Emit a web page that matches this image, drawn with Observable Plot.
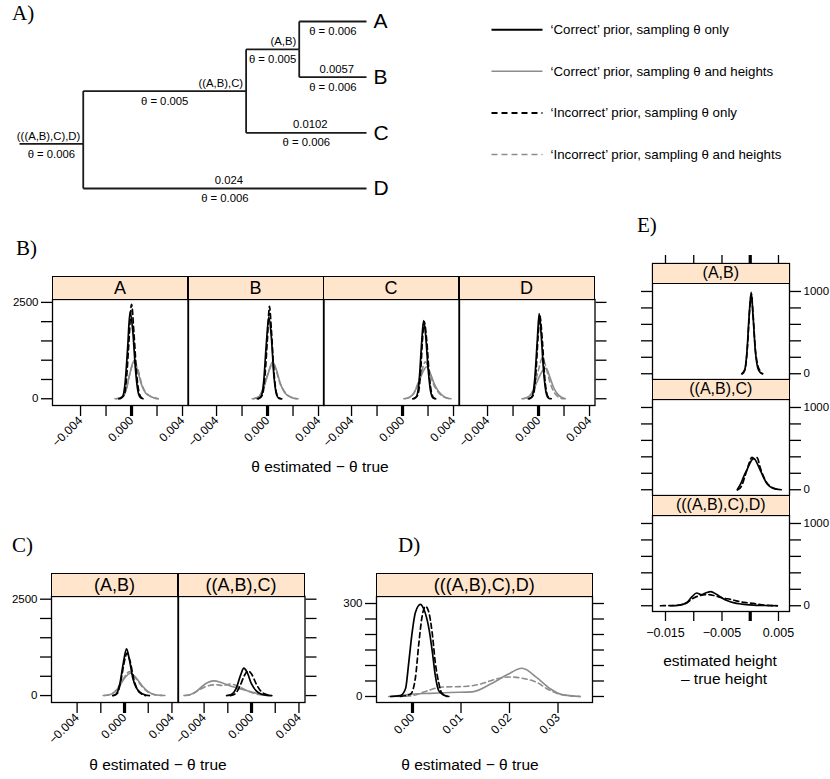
<!DOCTYPE html>
<html><head><meta charset="utf-8">
<script src="https://cdn.jsdelivr.net/npm/d3@7"></script>
<script src="https://cdn.jsdelivr.net/npm/@observablehq/plot@0.6"></script>
<style>
body{margin:0;background:#fff;}
#fig{position:relative;width:830px;height:779px;background:#fff;overflow:hidden;font-family:'Liberation Sans',Arial,Helvetica,sans-serif;color:#000;}
.strip{position:absolute;box-sizing:border-box;background:#ffe5cc;border:1.3px solid #000;display:flex;align-items:center;justify-content:center;white-space:nowrap;line-height:1;}
.txt{position:absolute;white-space:nowrap;line-height:1;transform:translate(-50%,-50%);}
.lett{position:absolute;white-space:nowrap;line-height:1;font-family:'Liberation Serif','Times New Roman',serif;font-size:21px;}
</style></head><body><div id="fig"></div>
<script>
// ---------------- DATA ----------------
// Tree (panel A)
const treeNodes  = ["A","B","C","D","(A,B)","((A,B),C)","(((A,B),C),D)"];
const treeParent = ["(A,B)","(A,B)","((A,B),C)","(((A,B),C),D)","((A,B),C)","(((A,B),C),D)",null];
const treeHeight = [0,0,0,0,0.0057,0.0102,0.024];
const treeRow    = [0,1,2,3,0.5,1.25,2.2];
const treeTheta  = ["0.006","0.006","0.006","0.006","0.005","0.005","0.006"];
const treeHeightLabelNodes = ["B","C","D"];
const rootStem = 0.0054;

// Legend series
const seriesNames = [
  "\u2018Correct\u2019 prior, sampling \u03b8 only",
  "\u2018Correct\u2019 prior, sampling \u03b8 and heights",
  "\u2018Incorrect\u2019 prior, sampling \u03b8 only",
  "\u2018Incorrect\u2019 prior, sampling \u03b8 and heights"
];

// Tick values
const thetaXTicks = [-0.004,-0.002,0,0.002,0.004];
const thetaXLabels = [-0.004,0,0.004];
const bYTicks = [0,500,1000,1500,2000,2500];
const bYLabels = [0,2500];
const dXTicks = [0,0.01,0.02,0.03];
const dYTicks = [0,50,100,150,200,250,300];
const dYLabels = [0,300];
const eXTicks = [-0.015,-0.01,-0.005,0,0.005];
const eXLabels = [-0.015,-0.005,0.005];
const eYTicks = [0,200,400,600,800,1000];
const eYLabels = [0,1000];

// Panel B facets (curves order: correct θ only, correct θ+heights, incorrect θ only, incorrect θ+heights)
const bFacets = ["A","B","C","D"];
const bA = [
  [[-0.0010,0],[-0.0007,60],[-0.0005,420],[-0.0003,1350],[-0.00012,2250],[0.0001,1750],[0.0003,800],[0.0005,200],[0.0007,30],[0.0009,0]],
  [[-0.0013,0],[-0.0009,20],[-0.0005,150],[-0.0002,550],[0.0002,990],[0.0005,700],[0.0008,350],[0.0011,150],[0.0015,60],[0.0018,20],[0.0021,0]],
  [[-0.0009,0],[-0.0006,80],[-0.0004,500],[-0.0002,1500],[0.0,2450],[0.0002,1650],[0.0004,650],[0.0006,150],[0.0008,20],[0.001,0]],
  [[-0.0012,0],[-0.0008,40],[-0.0004,250],[-0.0001,700],[0.0002,930],[0.0005,760],[0.0008,380],[0.0011,170],[0.0014,80],[0.0018,20],[0.0021,0]]
];
const bB = [
  [[-0.0008,0],[-0.0005,60],[-0.0003,450],[-0.0001,1400],[0.0001,2120],[0.0003,1600],[0.0005,600],[0.0007,120],[0.0009,10],[0.0011,0]],
  [[-0.0012,0],[-0.0008,30],[-0.0004,200],[0.0,600],[0.0004,960],[0.0007,750],[0.001,400],[0.0013,180],[0.0017,60],[0.0021,10],[0.0024,0]],
  [[-0.0007,0],[-0.0004,100],[-0.0002,600],[0.0,1600],[0.00015,2400],[0.0003,1800],[0.0005,700],[0.0007,150],[0.0009,20],[0.0011,0]],
  [[-0.0011,0],[-0.0007,50],[-0.0003,300],[0.0001,720],[0.0004,900],[0.0007,700],[0.001,380],[0.0013,200],[0.0016,90],[0.002,20],[0.0023,0]]
];
const bC = [
  [[0.0008,0],[0.0011,60],[0.0013,450],[0.0015,1450],[0.00165,2030],[0.0018,1700],[0.002,800],[0.0022,200],[0.0024,20],[0.0026,0]],
  [[0.0001,0],[0.0005,30],[0.0009,150],[0.0013,450],[0.0016,700],[0.0019,830],[0.0022,650],[0.0025,380],[0.0028,200],[0.0032,70],[0.0035,15],[0.0038,0]],
  [[0.0009,0],[0.0012,100],[0.0014,600],[0.0016,1700],[0.0017,2000],[0.0019,1500],[0.0021,600],[0.0023,120],[0.0025,10],[0.0027,0]],
  [[0.0002,0],[0.0006,40],[0.001,220],[0.0014,600],[0.0018,960],[0.0021,700],[0.0024,400],[0.0027,220],[0.003,100],[0.0034,30],[0.0037,0]]
];
const bD = [
  [[-0.0008,0],[-0.0005,60],[-0.0003,500],[-0.0001,1500],[0.00005,2210],[0.0002,1700],[0.0004,700],[0.0006,150],[0.0008,15],[0.001,0]],
  [[-0.0013,0],[-0.0009,30],[-0.0005,150],[-0.0001,450],[0.0003,720],[0.0006,790],[0.0009,550],[0.0012,280],[0.0015,120],[0.0018,40],[0.0021,0]],
  [[-0.0007,0],[-0.0004,100],[-0.0002,700],[0.0,1800],[0.0001,2150],[0.0003,1500],[0.0005,500],[0.0007,80],[0.0009,0]],
  [[-0.0012,0],[-0.0008,40],[-0.0004,250],[0.0,750],[0.0003,1060],[0.0006,800],[0.0009,420],[0.0012,180],[0.0015,60],[0.0018,10],[0.002,0]]
];

// Panel C facets
const cFacets = ["(A,B)","((A,B),C)"];
const cAB = [
  [[-0.0010,0],[-0.0007,40],[-0.0004,300],[-0.0001,850],[0.00017,1210],[0.0004,950],[0.0007,450],[0.001,200],[0.0013,90],[0.0017,20],[0.0021,0]],
  [[-0.0018,0],[-0.0013,20],[-0.0008,100],[-0.0004,260],[0.0,450],[0.0005,580],[0.001,450],[0.0015,250],[0.002,100],[0.0026,20],[0.0034,0]],
  [[-0.0009,0],[-0.0006,60],[-0.0003,400],[0.0,900],[0.0002,1100],[0.0005,850],[0.0008,400],[0.0011,150],[0.0014,50],[0.0018,0]],
  [[-0.0017,0],[-0.0012,30],[-0.0007,140],[-0.0003,330],[0.0001,530],[0.0004,620],[0.0009,470],[0.0014,260],[0.0019,110],[0.0025,25],[0.0032,0]]
];
const cABC = [
  [[-0.0021,0],[-0.0017,30],[-0.0013,180],[-0.0009,550],[-0.00065,710],[-0.0004,620],[0.0,300],[0.0004,120],[0.0008,40],[0.0012,8],[0.0016,0]],
  [[-0.0057,0],[-0.0052,20],[-0.0046,120],[-0.004,280],[-0.0032,380],[-0.0025,330],[-0.0018,250],[-0.001,180],[-0.0003,120],[0.0004,60],[0.001,15],[0.0017,0]],
  [[-0.0018,0],[-0.0014,40],[-0.001,230],[-0.0006,520],[-0.0003,640],[0.0,560],[0.0004,300],[0.0008,110],[0.0012,30],[0.0017,0]],
  [[-0.0056,0],[-0.005,40],[-0.0044,150],[-0.0037,250],[-0.003,280],[-0.0024,260],[-0.0018,300],[-0.0012,250],[-0.0006,160],[0.0,80],[0.0006,30],[0.0012,5],[0.0017,0]]
];

// Panel D
const dFacet = "(((A,B),C),D)";
const dRoot = [
  [[-0.0045,0],[-0.0025,3],[-0.00144,25],[-0.00076,111],[-0.00007,207],[0.0006,271],[0.00165,297],[0.0023,283],[0.0034,218],[0.0041,143],[0.0047,68],[0.0054,19],[0.0064,5],[0.0075,0]],
  [[-0.0045,0],[-0.0025,3],[0.0003,8],[0.0037,10],[0.0078,13],[0.0123,15],[0.0161,40],[0.0195,70],[0.0226,91],[0.0257,60],[0.0284,25],[0.0308,6],[0.0346,0]],
  [[-0.0025,0],[-0.0004,8],[0.0006,60],[0.0013,170],[0.002,260],[0.0027,291],[0.0034,270],[0.0041,200],[0.0047,110],[0.0054,45],[0.006,12],[0.0071,0]],
  [[-0.0049,0],[-0.0004,2],[0.003,18],[0.0058,30],[0.0113,33],[0.014,40],[0.0174,57],[0.0202,63],[0.0229,58],[0.0257,45],[0.0277,25],[0.0298,10],[0.0325,2],[0.0346,0]]
];

// Panel E (solid, dashed)
const eFacets = ["(A,B)","((A,B),C)","(((A,B),C),D)"];
const eAB = [
  [[-0.0015,0],[-0.001,40],[-0.0006,250],[-0.0002,700],[0.00017,990],[0.0005,700],[0.0009,280],[0.0013,80],[0.0017,20],[0.0021,0]],
  [[-0.0014,0],[-0.0009,60],[-0.0005,320],[-0.0001,780],[0.0002,970],[0.0005,720],[0.0009,300],[0.0013,110],[0.0017,40],[0.0022,0]]
];
const eABC = [
  [[-0.0023,0],[-0.0017,70],[-0.0011,170],[-0.0005,255],[0.0,330],[0.0006,382],[0.0018,232],[0.003,70],[0.004,20],[0.0055,0]],
  [[-0.0022,0],[-0.0015,50],[-0.001,150],[-0.0003,300],[0.0003,395],[0.0008,370],[0.0012,390],[0.0018,260],[0.0027,110],[0.0038,30],[0.0052,0]]
];
const eRoot = [
  [[-0.0141,0],[-0.0125,8],[-0.0112,40],[-0.0103,110],[-0.0095,155],[-0.0087,135],[-0.0079,155],[-0.007,172],[-0.006,140],[-0.005,95],[-0.004,60],[-0.003,38],[-0.0015,20],[0.0005,8],[0.0025,3],[0.0048,0]],
  [[-0.0159,0],[-0.0135,3],[-0.0115,25],[-0.01,95],[-0.0088,125],[-0.0075,135],[-0.0065,125],[-0.0055,105],[-0.0045,90],[-0.0035,78],[-0.0025,60],[-0.001,40],[0.0006,28],[0.002,12],[0.0035,3],[0.0048,0]]
];

// ---------------- STYLE / LAYOUT ----------------
const FONT = "'Liberation Sans', Arial, Helvetica, sans-serif";
const seriesStroke = ["#000","#8c8c8c","#000","#8c8c8c"];
const seriesDash = ["none","none","5,3.5","5,3.5"];
const seriesWidth = [1.7,1.6,1.7,1.6];
const fig = document.getElementById("fig");
const f3 = d3.format(".3f"), f2 = d3.format(".2f");

function place(el, left, top){el.style.position="absolute";el.style.left=left+"px";el.style.top=top+"px";fig.appendChild(el);}
function addText(t, cx, cy, size){const d=document.createElement("div");d.className="txt";d.textContent=t;d.style.left=cx+"px";d.style.top=cy+"px";d.style.fontSize=size+"px";fig.appendChild(d);}
function addLetter(t, x, baseline){const d=document.createElement("div");d.className="lett";d.textContent=t;d.style.left=x+"px";d.style.top=(baseline-17.6)+"px";fig.appendChild(d);}
function addStrip(t, left, top, w, h, size){const d=document.createElement("div");d.className="strip";d.textContent=t;d.style.left=left+"px";d.style.top=top+"px";d.style.width=(w+0.6)+"px";d.style.height=(h+0.6)+"px";d.style.fontSize=size+"px";fig.appendChild(d);}

function curveMarks(curves, seriesIdx){
  const items = curves.map((c,i)=>({c, s: seriesIdx[i]}));
  items.sort((a,b)=>((a.s%2===1)?0:1)-((b.s%2===1)?0:1));
  return items.map(({c,s})=>Plot.line(c,{x:d=>d[0],y:d=>d[1],stroke:seriesStroke[s],strokeWidth:seriesWidth[s],strokeDasharray:seriesDash[s],curve:"monotone-x"}));
}
function xBottom(ticks, labelled, fmt, rotate, pad, size){
  return [
    Plot.axisX(ticks,{anchor:"bottom",tickSize:11,tickPadding:pad,tickRotate:rotate,tickFormat:d=>labelled.includes(d)?fmt(d):"",label:null,strokeWidth:1.3,fontSize:size}),
    Plot.axisX([0],{anchor:"bottom",tickSize:11,strokeWidth:3.2,tickFormat:()=>"",label:null})
  ];
}
function yAxis(anchor, ticks, labelled){
  return Plot.axisY(ticks,{anchor,tickSize:11,tickPadding:3,tickFormat:d=>labelled.includes(d)?String(d):"",label:null,strokeWidth:1.3,fontSize:11.5});
}
function facet({x0,y0,w,h,xd,yd,marks}){
  const mL=60,mR=60,mT=14,mB=70;
  const svg = Plot.plot({
    width:w+mL+mR,height:h+mT+mB,marginLeft:mL,marginRight:mR,marginTop:mT,marginBottom:mB,
    x:{domain:xd,axis:null},y:{domain:yd,axis:null},
    style:{background:"transparent",overflow:"visible",fontFamily:FONT,fontSize:"11.5px",color:"#000"},
    marks:[...marks,Plot.frame({stroke:"#000",strokeWidth:1.3})]
  });
  place(svg,x0-mL,y0-mT);
}

// ---------------- PANEL A: tree ----------------
const idx = n => treeNodes.indexOf(n);
const treeSegs = [], thetaLabels = [], heightLabels = [];
treeNodes.forEach((n,i)=>{
  const p = treeParent[i];
  const ph = p ? treeHeight[idx(p)] : treeHeight[i]+rootStem;
  treeSegs.push({x1:ph,x2:treeHeight[i],y1:treeRow[i],y2:treeRow[i]});
  if (p) treeSegs.push({x1:ph,x2:ph,y1:treeRow[idx(p)],y2:treeRow[i]});
  thetaLabels.push({x:(ph+treeHeight[i])/2,y:treeRow[i],t:"\u03b8 = "+treeTheta[i]});
  if (treeHeightLabelNodes.includes(n)) heightLabels.push({x:(ph+treeHeight[i])/2,y:treeRow[i],t:String(ph)});
});
const leaves = treeNodes.map((n,i)=>({n,h:treeHeight[i],r:treeRow[i]})).filter(d=>d.h===0);
const internal = treeNodes.map((n,i)=>({n,h:treeHeight[i],r:treeRow[i]})).filter(d=>d.h>0);
const treeSvg = Plot.plot({
  width:420,height:215,margin:0,
  x:{domain:[treeHeight[idx("(((A,B),C),D)")]+rootStem,0],range:[19,366],axis:null},
  y:{domain:[0,3],range:[21,188],axis:null},
  style:{background:"transparent",overflow:"visible",fontFamily:FONT,color:"#000"},
  marks:[
    Plot.link(treeSegs,{x1:"x1",x2:"x2",y1:"y1",y2:"y2",stroke:"#1a1a1a",strokeWidth:1.8}),
    Plot.text(leaves,{x:"h",y:"r",text:"n",dx:7,textAnchor:"start",fontSize:21}),
    Plot.text(internal,{x:"h",y:"r",text:"n",dx:-3,dy:-8,textAnchor:"end",fontSize:11.3}),
    Plot.text(thetaLabels,{x:"x",y:"y",text:"t",dy:10,fontSize:11.3}),
    Plot.text(heightLabels,{x:"x",y:"y",text:"t",dx:4,dy:-8,fontSize:11.3})
  ]
});
place(treeSvg,0,0);

// Legend
const legendSvg = Plot.plot({
  width:350,height:180,margin:0,
  x:{domain:[0,1],range:[11,62],axis:null},
  y:{domain:[0,3],range:[29.3,154],axis:null},
  style:{background:"transparent",overflow:"visible",fontFamily:FONT,color:"#000"},
  marks:[
    ...seriesNames.map((n,i)=>Plot.link([i],{x1:()=>0,x2:()=>1,y1:d=>d,y2:d=>d,stroke:seriesStroke[i],strokeWidth:i%2?1.5:2.1,strokeDasharray:seriesDash[i]==="none"?"none":"6,4"})),
    Plot.text(seriesNames,{x:()=>1,y:(d,i)=>i,text:d=>d,dx:8,textAnchor:"start",fontSize:13.3})
  ]
});
place(legendSvg,480,0);

// ---------------- PANEL B ----------------
const B_XD=[-0.0062,0.00443], B_YD=[-175,2575];
const bCurves=[bA,bB,bC,bD];
bFacets.forEach((name,i)=>{
  const x0=52+i*135.5;
  const m=[...curveMarks(bCurves[i],[0,1,2,3]),...xBottom(thetaXTicks,thetaXLabels,f3,-45,2,12)];
  if(i===0) m.push(yAxis("left",bYTicks,bYLabels));
  if(i===3) m.push(yAxis("right",bYTicks,[]));
  facet({x0,y0:299,w:135.5,h:106,xd:B_XD,yd:B_YD,marks:m});
  addStrip(name,x0,276,135.5,23,18);
});

// ---------------- PANEL C ----------------
const C_XD=[-0.00616,0.00451], C_YD=[-180,2570];
const cCurves=[cAB,cABC];
cFacets.forEach((name,i)=>{
  const x0=51+i*126.5;
  const m=[...curveMarks(cCurves[i],[0,1,2,3]),...xBottom(thetaXTicks,thetaXLabels,f3,-45,2,12)];
  if(i===0) m.push(yAxis("left",bYTicks,bYLabels));
  if(i===1) m.push(yAxis("right",bYTicks,[]));
  facet({x0,y0:596,w:126.5,h:106,xd:C_XD,yd:C_YD,marks:m});
  addStrip(name,x0,573,126.5,23,18);
});

// ---------------- PANEL D ----------------
facet({x0:376,y0:596,w:216,h:106,xd:[-0.00742,0.03711],yd:[-19.4,322.6],
  marks:[...curveMarks(dRoot,[0,1,2,3]),...xBottom(dXTicks,dXTicks,f2,-45,2,12),yAxis("left",dYTicks,dYLabels),yAxis("right",dYTicks,[])]});
addStrip(dFacet,376,573,216,23,18);

// ---------------- PANEL E ----------------
const E_XD=[-0.0173,0.00695];
const eCurves=[eAB,eABC,eRoot];
const eRows=[{y0:263,h:116,yd:[-70,1340],strip:263},{y0:399,h:96,yd:[-70,1097],strip:379},{y0:515,h:96,yd:[-70,1097],strip:495}];
eRows.forEach((r,i)=>{
  const m=[...curveMarks(eCurves[i],[0,2]),yAxis("left",eYTicks,[]),yAxis("right",eYTicks,eYLabels)];
  if(i===0){
    m.push(Plot.axisX(eXTicks,{anchor:"top",tickSize:9,tickFormat:()=>"",label:null,strokeWidth:1.3}));
    m.push(Plot.axisX([0],{anchor:"top",tickSize:9,tickFormat:()=>"",label:null,strokeWidth:3.2}));
  }
  if(i===2){
    m.push(Plot.axisX(eXTicks,{anchor:"bottom",tickSize:10,tickPadding:7,tickFormat:d=>eXLabels.includes(d)?f3(d):"",label:null,strokeWidth:1.3,fontSize:12.5}));
    m.push(Plot.axisX([0],{anchor:"bottom",tickSize:10,tickFormat:()=>"",label:null,strokeWidth:3.2}));
  }
  facet({x0:652,y0:r.y0,w:137,h:r.h,xd:E_XD,yd:r.yd,marks:m});
  addStrip(eFacets[i],652,r.strip,137,20,16);
});

// ---------------- Titles ----------------
addLetter("A)",12,21);
addLetter("B)",16,256);
addLetter("C)",12,553);
addLetter("D)",398,553);
addLetter("E)",637,233);
addText("\u03b8 estimated \u2212 \u03b8 true",320,467,15.5);
addText("\u03b8 estimated \u2212 \u03b8 true",158,765,15.5);
addText("\u03b8 estimated \u2212 \u03b8 true",470,765,15.5);
addText("estimated height",720,661,15.5);
addText("\u2013 true height",724,679,15.5);
</script></body></html>
